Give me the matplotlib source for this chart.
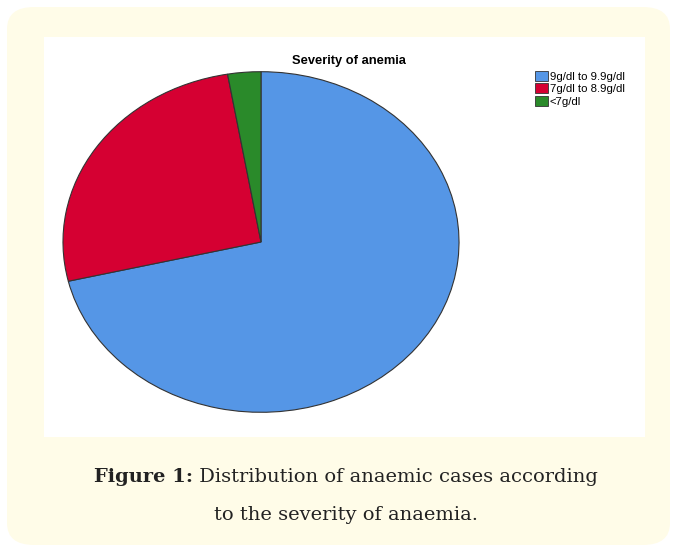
import matplotlib.pyplot as plt
from matplotlib.patches import FancyBboxPatch, Rectangle

labels = ["9g/dl to 9.9g/dl", "7g/dl to 8.9g/dl", "<7g/dl"]
shares = [71.3, 26.0, 2.7]
colors = ["#5596E6", "#D50032", "#2A8A2A"]

W, H = 677, 548
fig = plt.figure(figsize=(W / 100, H / 100), dpi=100)

def px(x, y):
    # pixel coords from top-left -> figure fraction
    return x / W, 1 - y / H

# cream rounded card and white panel
card = FancyBboxPatch((7 / W, 1 - 545 / H), (670 - 7) / W, (545 - 7) / H,
                      boxstyle="round,pad=0,rounding_size=0.04",
                      transform=fig.transFigure, facecolor="#FFFCE8",
                      edgecolor="none", zorder=0)
fig.patches.append(card)
panel = Rectangle((44 / W, 1 - 437 / H), (645 - 44) / W, (437 - 37) / H,
                  transform=fig.transFigure, facecolor="white",
                  edgecolor="none", zorder=1)
fig.patches.append(panel)

# pie is stretched into an ellipse like the SPSS output
ax = fig.add_axes([61 / W, 1 - 414 / H, 400 / W, 344 / H])
ax.set_zorder(2)
wedges, _ = ax.pie(shares, colors=colors, startangle=90, counterclock=False,
                   radius=1, wedgeprops=dict(edgecolor="#333333", linewidth=0.8))
ax.set_aspect("auto")
ax.set_xlim(-1.01, 1.01)
ax.set_ylim(-1.01, 1.01)
ax.axis("off")
ax.patch.set_visible(False)

fig.text(*px(349, 61), "Severity of anemia", ha="center", va="center",
         fontsize=9.3, fontweight="bold", family="Liberation Sans", zorder=3)

leg = fig.legend(wedges, labels, loc="upper left", bbox_to_anchor=px(530, 66),
                 frameon=False, handlelength=1.15, handleheight=1.0,
                 handletextpad=0.2, labelspacing=0.15, borderaxespad=0,
                 prop={"family": "Liberation Sans", "size": 8.2})
for h in leg.legend_handles:
    h.set_edgecolor("#333333")
    h.set_linewidth(0.6)

# caption: bold label followed by regular text
cap_font = "DejaVu Serif"
fs = 14
t1 = fig.text(0, 0, "Figure 1:", fontsize=fs, fontweight="bold", family=cap_font)
t2 = fig.text(0, 0, " Distribution of anaemic cases according", fontsize=fs, family=cap_font)
fig.canvas.draw()
r = fig.canvas.get_renderer()
w1 = t1.get_window_extent(r).width
w2 = t2.get_window_extent(r).width
x0 = 346 - (w1 + w2) / 2
y1 = 1 - 477 / H
t1.set_position((x0 / W, y1))
t1.set_va("center")
t2.set_position(((x0 + w1) / W, y1))
t2.set_va("center")
fig.text(346 / W, 1 - 515 / H, "to the severity of anaemia.", fontsize=fs,
         family=cap_font, ha="center", va="center", color="#222222")
t1.set_color("#222222")
t2.set_color("#222222")

fig.savefig("out.png", dpi=100, facecolor="white")
